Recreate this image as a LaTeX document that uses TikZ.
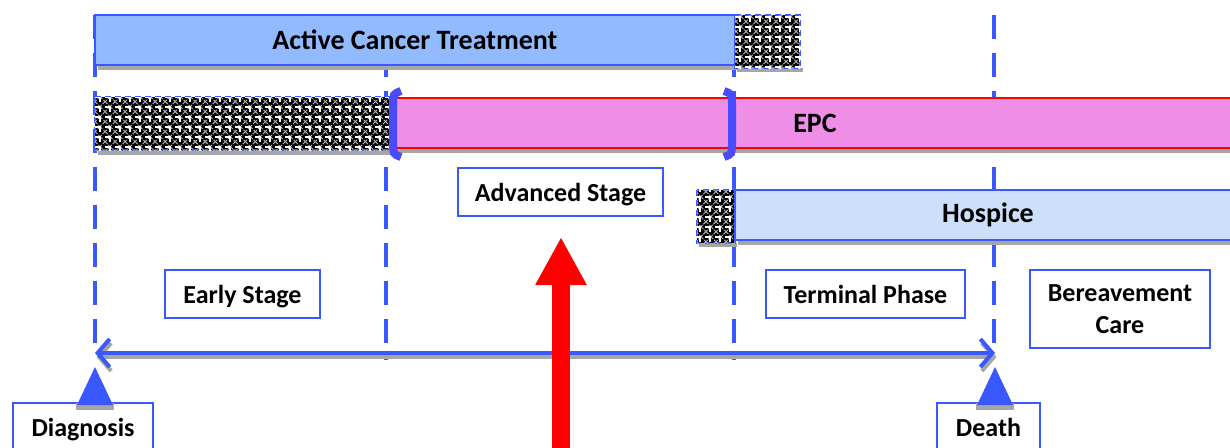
\documentclass[tikz,border=0pt]{standalone}
\usepackage{fontspec}
\setmainfont{Carlito}
\usetikzlibrary{arrows.meta,patterns.meta,shadows}

\definecolor{lineblue}{HTML}{3A58FF}
\definecolor{actblue}{HTML}{92BAFF}
\definecolor{hospblue}{HTML}{CCE0FA}
\definecolor{epcpink}{HTML}{EE8EE6}
\definecolor{brackblue}{HTML}{4A4AFF}
\definecolor{shadowgray}{HTML}{A6A6A6}

\tikzset{
  bar/.style={draw=lineblue, line width=1pt, minimum height=25pt, inner sep=0pt,
    font=\fontsize{14}{17}\selectfont\bfseries,
    drop shadow={shadow xshift=1.5pt, shadow yshift=-2.5pt, fill=shadowgray, opacity=1}},
  bartext/.style={font=\fontsize{14}{17}\selectfont\bfseries},
  hatchbox/.style={fill=black, draw=lineblue, densely dashed, line width=0.6pt,
    postaction={pattern={Hatch[angle=45, distance=3.54pt, line width=0.45pt]}, pattern color=gray!60!white},
    postaction={pattern={Hatch[angle=0, distance=5pt, line width=0.9pt]}, pattern color=white}},
  stagebox/.style={draw=lineblue, line width=0.8pt, fill=white, minimum height=24pt,
    inner sep=2pt, align=center},
  onebox/.style={stagebox, text height=10.5pt, text depth=1.5pt},
  vline/.style={lineblue, line width=2pt, dash pattern=on 12pt off 7pt},
  brack/.style={brackblue, line width=4pt}
}

\begin{document}
\begin{tikzpicture}[x=0.5pt, y=-0.5pt, font=\fontsize{13}{16}\selectfont\bfseries]
  \clip (0,0) rectangle (1230,447);

  % vertical phase lines
  \draw[vline] (95,15) -- (95,345);
  \draw[vline] (386,15) -- (386,360);
  \draw[vline] (734,15) -- (734,360);
  \draw[vline] (994,15) -- (994,345);

  % treatment bars
  \node[bar, fill=actblue, minimum width=320pt] (act) at (415,40) {Active Cancer Treatment};
  \fill[shadowgray] (737,68) rectangle (803,72);
  \path[hatchbox] (735,15) rectangle (800,68);

  \fill[shadowgray] (98,150) rectangle (392,155);
  \path[hatchbox] (95,97) rectangle (390,150);
  \node[bar, draw=red, fill=epcpink, minimum width=425pt] (epc) at (815,123) {};
  \node[bartext] (epctext) at (815,123) {EPC};
  \draw[brack] (401,91) .. controls (393,94) .. (393,105) -- (393,143) .. controls (393,154) .. (401,157);
  \draw[brack] (724,91) .. controls (732,94) .. (732,105) -- (732,143) .. controls (732,154) .. (724,157);

  \fill[shadowgray] (699,243) rectangle (737,247);
  \path[hatchbox] (697,190) rectangle (735,243);
  \node[bar, fill=hospblue, minimum width=252pt] (hosp) at (987,215) {};
  \node[bartext] (hosptext) at (988,215) {Hospice};

  % stage labels
  \node[onebox, minimum width=102.5pt] (adv) at (560.5,192) {Advanced Stage};
  \node[onebox, minimum width=77.5pt] (early) at (242.5,294) {Early Stage};
  \node[onebox, minimum width=99.5pt] (term) at (865.5,294) {Terminal Phase};
  \node[stagebox, minimum width=90pt, minimum height=39pt] (bereave) at (1120,309) {Bereavement\\Care};

  % time line
  \coordinate (tstart) at (95,353);
  \coordinate (tend) at (995,353);
  \draw[shadowgray, line width=2pt, {Straight Barb[length=6pt,width=14pt]}-{Straight Barb[length=6pt,width=14pt]}]
    ([shift={(1.5,4)}]tstart) -- ([shift={(1.5,4)}]tend);
  \draw[lineblue, line width=2pt, {Straight Barb[length=6pt,width=14pt]}-{Straight Barb[length=6pt,width=14pt]}]
    (tstart) -- (tend);

  % event markers
  \node[onebox, minimum width=70pt] (diag) at (83,427) {Diagnosis};
  \node[onebox, minimum width=51.5pt] (death) at (988.5,427) {Death};
  \fill[shadowgray] (76,403) rectangle (114,410);
  \fill[lineblue] (95,367) -- (113,405) -- (77,405) -- cycle;
  \fill[shadowgray] (976,403) rectangle (1014,410);
  \fill[lineblue] (995,367) -- (1013,405) -- (977,405) -- cycle;

  % red arrow
  \coordinate (rbase) at (561,450);
  \coordinate (rtip) at (561,237);
  \draw[red, line width=9pt, -{Triangle[length=24pt,width=24pt]}] (rbase) -- (rtip);
\end{tikzpicture}
\end{document}
